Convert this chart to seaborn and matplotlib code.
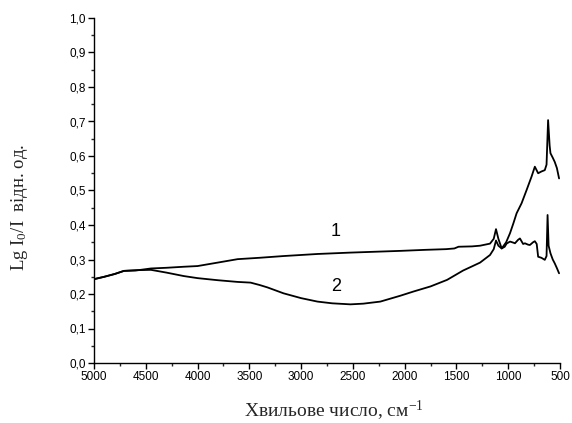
import numpy as np
import pandas as pd
import matplotlib
matplotlib.use("Agg")
import matplotlib.pyplot as plt
from matplotlib.ticker import MultipleLocator, FuncFormatter
import seaborn as sns

# ---- data ----
x1 = [5000, 4900, 4800, 4711, 4600, 4450, 4300, 4133, 4000, 3806, 3613, 3400, 3170,
      2842, 2524, 2235, 2042, 1800, 1600, 1520, 1480, 1350, 1272, 1176, 1140, 1118,
      1095, 1063, 1034, 1016, 983, 952, 935, 905, 887, 856, 839, 808, 791, 760, 743,
      725, 711, 680, 647, 630, 620, 610, 592, 570, 551, 530, 509]
y1 = [0.243, 0.250, 0.258, 0.267, 0.268, 0.274, 0.276, 0.279, 0.281, 0.291, 0.301,
      0.305, 0.310, 0.316, 0.320, 0.323, 0.325, 0.328, 0.330, 0.332, 0.337, 0.338,
      0.340, 0.346, 0.360, 0.388, 0.360, 0.332, 0.337, 0.346, 0.352, 0.349, 0.347,
      0.357, 0.361, 0.345, 0.347, 0.343, 0.342, 0.350, 0.353, 0.345, 0.308, 0.305,
      0.299, 0.310, 0.429, 0.340, 0.318, 0.300, 0.289, 0.275, 0.260]

x2 = [5000, 4900, 4800, 4711, 4600, 4450, 4300, 4133, 4000, 3806, 3613, 3488, 3400,
      3324, 3170, 3000, 2842, 2700, 2524, 2400, 2235, 2042, 1917, 1750, 1590, 1436,
      1350, 1272, 1176, 1140, 1118, 1095, 1063, 1020, 983, 950, 919, 871, 823, 775,
      743, 711, 680, 647, 630, 615, 600, 592, 570, 551, 530, 509]
y2 = [0.243, 0.250, 0.258, 0.267, 0.269, 0.270, 0.262, 0.252, 0.246, 0.240, 0.235,
      0.233, 0.226, 0.219, 0.202, 0.188, 0.178, 0.173, 0.170, 0.172, 0.178, 0.195,
      0.207, 0.222, 0.241, 0.268, 0.280, 0.291, 0.313, 0.330, 0.355, 0.340, 0.332,
      0.350, 0.376, 0.405, 0.434, 0.463, 0.501, 0.540, 0.569, 0.550, 0.555, 0.559,
      0.575, 0.704, 0.630, 0.608, 0.595, 0.583, 0.565, 0.535]

curve_labels = ["1", "2"]
label_pos = [(2670, 0.381), (2659, 0.222)]

x_ticks = [5000, 4500, 4000, 3500, 3000, 2500, 2000, 1500, 1000, 500]
y_ticks = [0.0, 0.1, 0.2, 0.3, 0.4, 0.5, 0.6, 0.7, 0.8, 0.9, 1.0]

# ---- plot ----
sns.set_style("ticks")
plt.rcParams['font.family'] = ['Liberation Sans', 'DejaVu Sans']
plt.rcParams['mathtext.fontset'] = 'custom'
plt.rcParams['mathtext.rm'] = 'Liberation Serif'
plt.rcParams['mathtext.it'] = 'Liberation Serif:italic'
plt.rcParams['mathtext.bf'] = 'Liberation Serif:bold'

fig = plt.figure(figsize=(5.72, 4.23), dpi=100)
ax = fig.add_axes([94/572, 60/423, (560-94)/572, (363-18)/423])

df1 = pd.DataFrame({"x": x1, "y": y1})
df2 = pd.DataFrame({"x": x2, "y": y2})
sns.lineplot(data=df1, x="x", y="y", ax=ax, color="black", lw=1.3, sort=False)
sns.lineplot(data=df2, x="x", y="y", ax=ax, color="black", lw=1.3, sort=False)

for lab, (lx, ly) in zip(curve_labels, label_pos):
    ax.text(lx, ly, lab, fontsize=13, ha="center", va="center", color="black")

ax.set_xlim(5000, 500)
ax.set_ylim(0, 1.0)
ax.set_xticks(x_ticks)
ax.set_yticks(y_ticks)
ax.xaxis.set_minor_locator(MultipleLocator(250))
ax.yaxis.set_minor_locator(MultipleLocator(0.05))
ax.yaxis.set_major_formatter(FuncFormatter(lambda v, p: f"{v:.1f}".replace(".", ",")))
ax.tick_params(axis="both", which="major", direction="out", length=4, width=1,
               labelsize=8.5, colors="black", pad=2)
ax.tick_params(axis="both", which="minor", direction="out", length=2.5, width=1)

sns.despine(ax=ax, top=True, right=True)
for s in ["left", "bottom"]:
    ax.spines[s].set_color("black")
    ax.spines[s].set_linewidth(1)

ax.set_xlabel(r"Хвильове число, см$^{\mathrm{-1}}$", fontsize=14,
              family=["Liberation Serif", "DejaVu Serif"])
ax.set_ylabel(r"Lg I$_{\mathrm{0}}$/I  відн. од.", fontsize=13.5,
              family=["Liberation Serif", "DejaVu Serif"])
ax.xaxis.set_label_coords((334-94)/466, -(399-363)/345)
ax.yaxis.set_label_coords(-(94-30)/466, (363-207)/345)

fig.savefig("out.png", dpi=100)
